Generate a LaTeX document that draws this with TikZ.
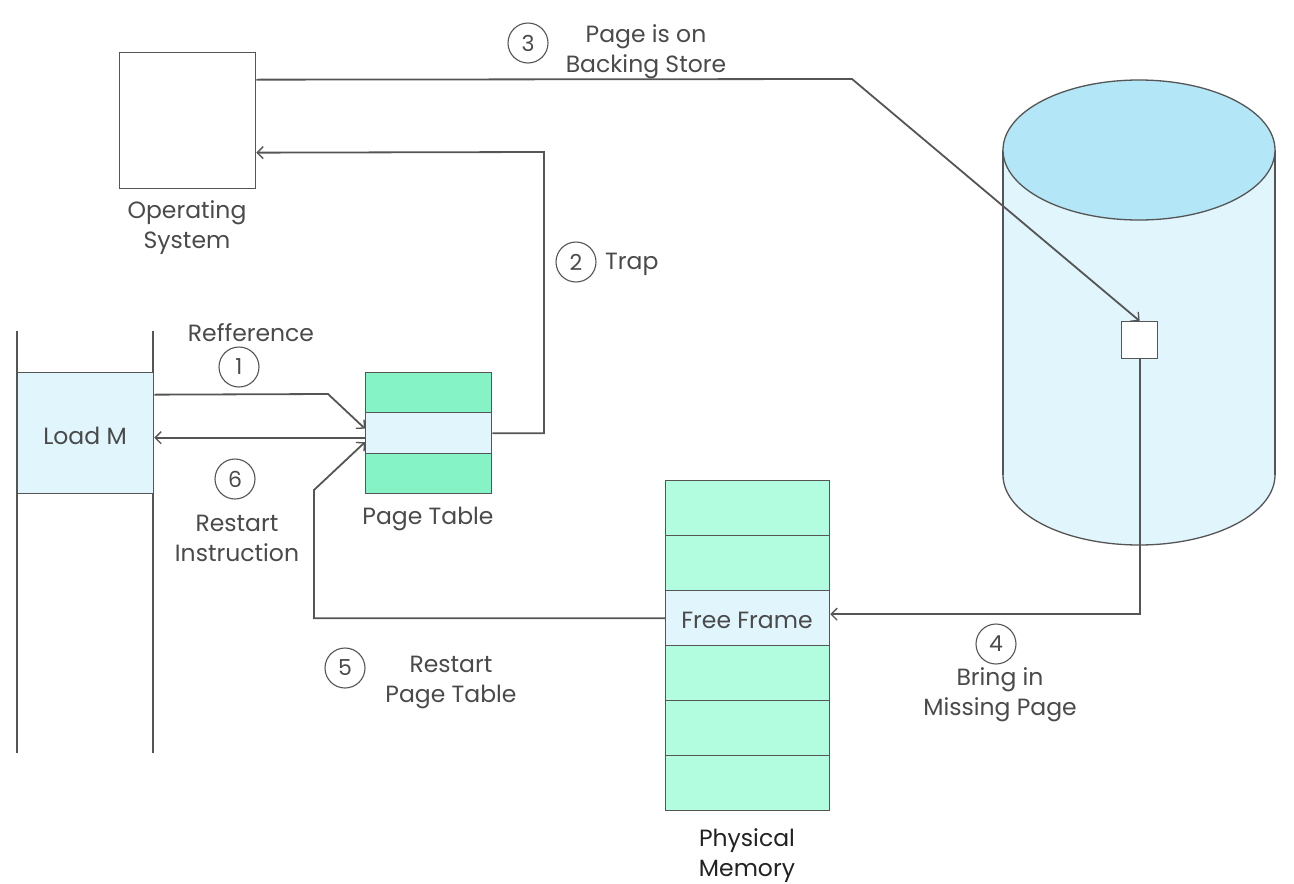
\documentclass[tikz,border=0pt]{standalone}
\usepackage{fontspec}
\setmainfont{Poppins}
\usetikzlibrary{arrows.meta}
\definecolor{ln}{HTML}{555555}
\definecolor{txt}{HTML}{4A4A4A}
\definecolor{dtxt}{HTML}{222222}
\definecolor{ptgreen}{HTML}{86F3C7}
\definecolor{pmgreen}{HTML}{B2FCDF}
\definecolor{lblue}{HTML}{E0F5FC}
\definecolor{ctop}{HTML}{B3E6F6}
\begin{document}
\begin{tikzpicture}[x=1pt,y=-1pt,
 lbl/.style={text=txt, font=\fontsize{23.5}{30}\selectfont, align=center, inner sep=0pt},
 box/.style={draw=ln, line width=1.3pt, inner sep=0pt, anchor=north west},
 num/.style={circle, draw=ln, line width=1.1pt, minimum size=40pt, inner sep=0pt, text=txt, font=\fontsize{22}{24}\selectfont},
 conn/.style={draw=ln, line width=1.8pt},
 arr/.style={conn, -{Straight Barb[length=6pt,width=12pt,line width=1.3pt]}},
]
\useasboundingbox (0,0) rectangle (1294,884);
% cylinder (backing store)
\fill[lblue] (1003,150) rectangle (1275,475);
\fill[lblue] (1139,475) ellipse [x radius=136pt, y radius=70pt];
\draw[ln, line width=1.3pt] (1003,150) -- (1003,475);
\draw[ln, line width=1.3pt] (1275,150) -- (1275,475);
\draw[ln, line width=1.3pt] plot[domain=0:180, samples=80] ({1139+136*cos(\x)},{475+70*sin(\x)});
\draw[ln, line width=1.3pt, fill=ctop] (1139,150) ellipse [x radius=136pt, y radius=70pt];
% process column
\draw[conn, line width=1.3pt] (17,331) -- (17,753);
\draw[conn, line width=1.3pt] (153,331) -- (153,753);
\node[box, fill=lblue, minimum width=136pt, minimum height=121pt] (loadm) at (17,372) {};
\node[lbl] (loadmtxt) at (85,436) {Load M};
% operating system
\node[box, fill=white, minimum width=136pt, minimum height=136pt] (os) at (119,52) {};
\node[lbl] (oslbl) at (187,228) {Operating\\System};
% page table
\node[box, fill=ptgreen, minimum width=126pt, minimum height=40pt] (pt1) at (365,372) {};
\node[box, fill=lblue, minimum width=126pt, minimum height=41pt] (pt2) at (365,412) {};
\node[box, fill=ptgreen, minimum width=126pt, minimum height=40pt] (pt3) at (365,453) {};
\node[lbl] (ptlbl) at (428,519) {Page Table};
% physical memory
\node[box, fill=pmgreen, minimum width=164pt, minimum height=55pt] (pm1) at (665,480) {};
\node[box, fill=pmgreen, minimum width=164pt, minimum height=55pt] (pm2) at (665,535) {};
\node[box, fill=lblue, minimum width=164pt, minimum height=55pt] (ff) at (665,590) {};
\node[box, fill=pmgreen, minimum width=164pt, minimum height=55pt] (pm4) at (665,645) {};
\node[box, fill=pmgreen, minimum width=164pt, minimum height=55pt] (pm5) at (665,700) {};
\node[box, fill=pmgreen, minimum width=164pt, minimum height=55pt] (pm6) at (665,755) {};
\node[lbl] (fftxt) at (747,620) {Free Frame};
\node[lbl, text=dtxt] (pmlbl) at (747,856) {Physical\\Memory};
% page on disk
\node[box, fill=white, minimum width=36pt, minimum height=37pt] (pg) at (1121,321) {};
% connectors
\draw[arr] ([yshift=38.5pt]loadm.east) -- (328,394) -- ([yshift=4.5pt]pt2.west);
\draw[arr] ([yshift=-4.5pt]pt2.west) -- ([yshift=-4.5pt]loadm.east);
\draw[arr] (pt2.east) -| (544,152) -- ([yshift=-32pt]os.east);
\draw[arr] ([yshift=41pt]os.east) -- (852,79) -- (pg.north);
\draw[arr] (pg.south) |- ([yshift=4pt]ff.east);
\draw[arr] (ff.west) -| (314,490) -- ([yshift=-9pt]pt2.west);
% step labels
\node[num] (n1) at (239,367) {1};
\node[lbl] (l1) at (251,333) {Refference};
\node[num] (n2) at (576,262) {2};
\node[lbl, anchor=west] (l2) at (605,264) {Trap};
\node[num] (n3) at (528,43) {3};
\node[lbl] (l3) at (646,52) {Page is on\\Backing Store};
\node[num] (n4) at (996,644) {4};
\node[lbl] (l4) at (1000,695) {Bring in\\Missing Page};
\node[num] (n5) at (345,668) {5};
\node[lbl] (l5) at (451,682) {Restart\\Page Table};
\node[num] (n6) at (235,479) {6};
\node[lbl] (l6) at (237,538) {Restart\\Instruction};
\end{tikzpicture}
\end{document}
